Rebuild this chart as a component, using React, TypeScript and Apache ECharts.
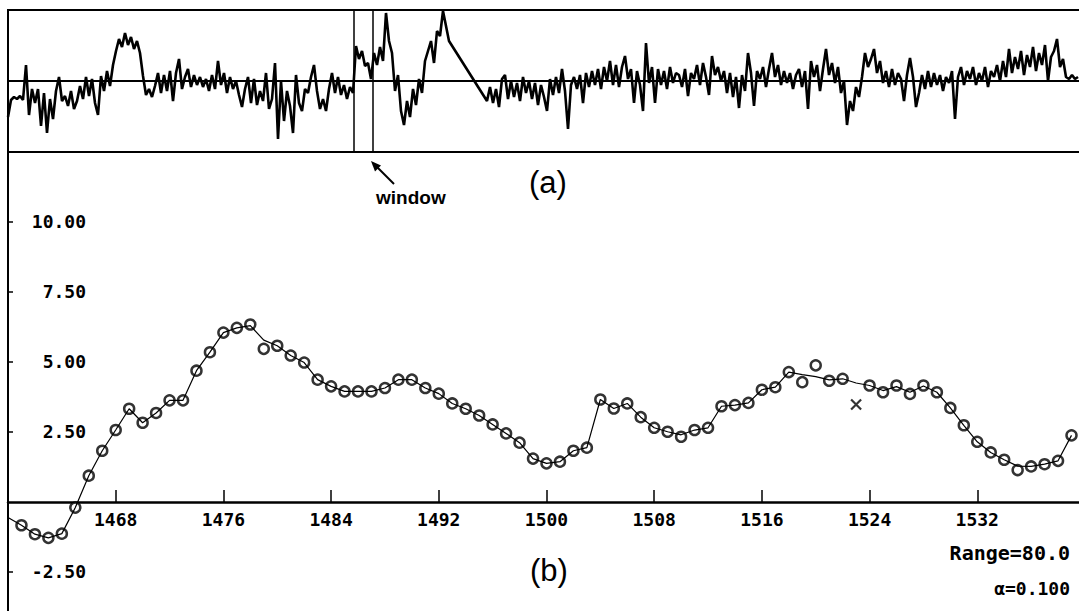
import React, { useEffect, useRef } from "react";
import * as echarts from "echarts";

// ---------- top panel (a): raw signal, in trace units (0 = baseline) ----------
const signalStep = 3;
const signalAStart = 0;
const signalA = [
  -36, -19, -16, -18, -15, -19, 16, -34, -8, -22,
  -8, -45, -12, -52, -18, -38, -10, 4, -20, -15,
  -25, -10, -28, -20, -5, -18, 4, -15, 2, -22,
  -34, 5, -10, 10, -5, 16, 30, 42, 34, 48,
  36, 44, 32, 40, 28, 5, -14, -8, -16, -5,
  8, -12, 6, -10, 10, -20, 8, 22, -8, 4,
  12, -6, 6, -4, 4, -6, 2, -10, 6, -8,
  20, -4, 8, -12, 4, -8, 0, -14, -26, -8,
  4, -22, 2, -24, -10, -20, 8, -28, -18, 18,
  -58, 0, -40, -10, -25, -52, 6, -22, -30, -8,
  -12, 4, 16, -10, -28, -18, -30, -8, 8, -12,
  4, -14, -4, -18, -6, -12, 35, 22, 30, 15,
  18, 2, 28, 16, 34, 20, 68, 40, 28, -10,
  6, -30, -44, -20, -36, -8, -24, 2, -12, 20,
  30, 40, 18, 50, 45, 70, 55, 40,
];
const signalBStart = 479;
const signalB = [
  -20, -6, -22, -8, -26, 2, 6, -18, 0, -16,
  -2, -20, 4, -12, 0, -18, -2, -24, -4, -16,
  -30, 2, -14, 4, -12, 12, -10, -48, -4, 4,
  -8, 6, -22, 8, -6, 10, -4, 12, -8, 14,
  0, 20, -4, 16, -6, 14, 25, 2, 12, -22,
  10, -4, -30, 38, -2, 14, -22, 12, -4, 10,
  -8, 14, -2, 8, 6, -6, 12, -15, 8, 2,
  16, -4, 18, 4, -14, 25, 6, 14, 0, 10,
  -12, 8, -16, 4, -27, 6, -10, 28, 8, -25,
  10, 2, 14, -6, 12, 28, 4, 16, -4, 10,
  -2, 8, -8, 6, 12, -6, 10, -28, 20, 4,
  16, -10, 12, 32, 6, 18, -2, 14, -12, 0,
  -44, -20, -30, -6, -16, 4, 28, 14, 22, 32,
  8, 20, -2, 10, -6, 12, -4, 8, 2, -20,
  6, 23, 4, -26, -12, 6, -8, 10, -6, 8,
  -4, 6, -10, 4, -2, 10, -38, 4, 14, -4,
  10, 2, 14, -4, 8, 0, 14, -6, 10, 4,
  16, 0, 20, 4, 32, 8, 24, 12, 30, 6,
  26, 14, 34, 10, 28, 16, 36, 0, 24, 30,
  42, 14, 22, 4, 2, 6, 2, 4,
];
const windowBounds = [346, 365];

// ---------- bottom panel (b) ----------
const fitStart = 1460;
const fitValues = [
  -0.55, -0.83, -1.15, -1.28, -1.13, -0.2, 0.94, 1.83, 2.57, 3.33,
  2.83, 3.18, 3.63, 3.63, 4.69, 5.35, 6.05, 6.22, 6.3, 5.78,
  5.58, 5.23, 4.98, 4.37, 4.13, 3.95, 3.95, 3.95, 4.07, 4.37,
  4.37, 4.07, 3.87, 3.52, 3.33, 3.09, 2.77, 2.45, 2.12, 1.55,
  1.38, 1.44, 1.83, 1.94, 3.66, 3.34, 3.52, 3.03, 2.65, 2.51,
  2.4, 2.57, 2.65, 3.42, 3.46, 3.54, 4.01, 4.1, 4.64, 4.55,
  4.48, 4.36, 4.4, 4.25, 4.16, 3.98, 4.12, 3.92, 4.14, 3.92,
  3.36, 2.74, 2.15, 1.77, 1.51, 1.28, 1.27, 1.35, 1.47, 2.38,
];
const pointStart = 1461;
const pointValues = [
  -0.83, -1.15, -1.28, -1.13, -0.2, 0.94, 1.83, 2.57, 3.33, 2.83,
  3.18, 3.63, 3.63, 4.69, 5.35, 6.05, 6.22, 6.34, 5.47, 5.58,
  5.23, 4.98, 4.37, 4.13, 3.95, 3.95, 3.95, 4.07, 4.37, 4.37,
  4.07, 3.87, 3.52, 3.33, 3.09, 2.77, 2.45, 2.12, 1.55, 1.38,
  1.44, 1.83, 1.94, 3.66, 3.34, 3.52, 3.03, 2.65, 2.51, 2.33,
  2.57, 2.65, 3.42, 3.46, 3.54, 4.01, 4.1, 4.64, 4.28, 4.88,
  4.33, 4.4, null, 4.16, 3.92, 4.16, 3.86, 4.16, 3.92, 3.36,
  2.74, 2.15, 1.77, 1.51, 1.14, 1.27, 1.35, 1.47, 2.38,
];
const rejectedX = [1523];
const rejectedY = [3.48];
const xTicks = [1468, 1476, 1484, 1492, 1500, 1508, 1516, 1524, 1532];
const yTicks = [-2.5, 2.5, 5, 7.5, 10];
const rangeText = "Range=80.0";
const alphaText = "\u03b1=0.100";

const MONO = "'DejaVu Sans Mono', monospace";
const SANS = "'Liberation Sans', Arial, sans-serif";

// bottom panel geometry
const B_TOP = 152;
const B_HEIGHT = 459;
const Y_MIN = -3.893;
const Y_MAX = 12.5;

export default function App() {
  const ref = useRef<HTMLDivElement>(null);
  useEffect(() => {
    if (!ref.current) return;
    const chart = echarts.init(ref.current, undefined, { renderer: "svg" });

    const sigData: number[][] = [];
    signalA.forEach((v, i) => sigData.push([signalAStart + i * signalStep, v]));
    signalB.forEach((v, i) => sigData.push([signalBStart + i * signalStep, v]));
    const fitData = fitValues.map((v, i) => [fitStart + i, v]);
    const ptData = pointValues
      .map((v, i) => [pointStart + i, v])
      .filter((d) => d[1] !== null);
    const rejData = rejectedX.map((x, i) => [x, rejectedY[i]]);

    // distance from the grid's bottom edge up to the value 0
    const zeroOffset = (0 - Y_MIN) / (Y_MAX - Y_MIN) * B_HEIGHT;

    const labelStyle = {
      color: "#000",
      fontFamily: MONO,
      fontWeight: "bold" as const,
      fontSize: 18,
    };

    chart.setOption({
      animation: false,
      backgroundColor: "#fff",
      grid: [
        {
          left: 8,
          top: 10,
          right: -3,
          height: 142,
          show: true,
          borderColor: "#000",
          borderWidth: 2,
          outerBoundsMode: "none",
          containLabel: false,
        },
        {
          left: 8,
          top: B_TOP,
          right: -3,
          height: B_HEIGHT,
          outerBoundsMode: "none",
          containLabel: false,
        },
      ],
      xAxis: [
        {
          gridIndex: 0,
          type: "value",
          min: 0,
          max: 1074,
          axisLine: { show: true, onZero: true, lineStyle: { color: "#000", width: 2 } },
          axisTick: { show: false },
          axisLabel: { show: false },
          splitLine: { show: false },
        },
        {
          gridIndex: 1,
          type: "value",
          min: 1460,
          max: 1539.78,
          position: "bottom",
          offset: -zeroOffset,
          axisLine: { show: true, onZero: false, lineStyle: { color: "#000", width: 2.5 } },
          axisTick: {
            show: true,
            inside: true,
            length: 12,
            customValues: xTicks,
            lineStyle: { color: "#000", width: 1.5 },
          },
          axisLabel: {
            show: true,
            customValues: xTicks,
            margin: 9,
            formatter: (v: number) => String(v),
            ...labelStyle,
          },
          splitLine: { show: false },
        },
      ],
      yAxis: [
        {
          gridIndex: 0,
          type: "value",
          min: -71,
          max: 71,
          axisLine: { show: false },
          axisTick: { show: false },
          axisLabel: { show: false },
          splitLine: { show: false },
        },
        {
          gridIndex: 1,
          type: "value",
          min: Y_MIN,
          max: Y_MAX,
          axisLine: { show: true, onZero: false, lineStyle: { color: "#000", width: 2 } },
          axisTick: {
            show: true,
            inside: true,
            length: 5,
            customValues: yTicks,
            lineStyle: { color: "#000", width: 1.5 },
          },
          axisLabel: {
            show: true,
            inside: true,
            margin: 78,
            align: "right",
            customValues: yTicks,
            formatter: (v: number) => v.toFixed(2),
            ...labelStyle,
          },
          splitLine: { show: false },
        },
      ],
      series: [
        {
          type: "line",
          xAxisIndex: 0,
          yAxisIndex: 0,
          data: sigData,
          showSymbol: false,
          lineStyle: { color: "#000", width: 2.6 },
          markLine: {
            silent: true,
            symbol: "none",
            label: { show: false },
            lineStyle: { color: "#000", width: 1.5, type: "solid" },
            data: windowBounds.map((x) => ({ xAxis: x })),
          },
        },
        {
          type: "line",
          xAxisIndex: 1,
          yAxisIndex: 1,
          data: fitData,
          showSymbol: false,
          lineStyle: { color: "#000", width: 1.2 },
        },
        {
          type: "scatter",
          xAxisIndex: 1,
          yAxisIndex: 1,
          data: ptData,
          symbol: "circle",
          symbolSize: 10,
          itemStyle: { color: "#fff", borderColor: "#000", borderWidth: 2.5 },
        },
        {
          type: "scatter",
          xAxisIndex: 1,
          yAxisIndex: 1,
          data: rejData,
          symbol: "path://M0 0L10 10M10 0L0 10",
          symbolSize: 10,
          itemStyle: { color: "none", borderColor: "#000", borderWidth: 2.2 },
        },
      ],
      graphic: [
        {
          type: "text",
          left: 529,
          top: 167,
          style: { text: "(a)", font: `31px ${SANS}`, fill: "#000" },
        },
        {
          type: "text",
          left: 530,
          top: 555,
          style: { text: "(b)", font: `31px ${SANS}`, fill: "#000" },
        },
        {
          type: "text",
          left: 376,
          top: 188,
          style: { text: "window", font: `bold 19px ${SANS}`, fill: "#000" },
        },
        {
          type: "line",
          shape: { x1: 394, y1: 184, x2: 376, y2: 166 },
          style: { stroke: "#000", lineWidth: 2 },
        },
        {
          type: "polygon",
          shape: { points: [[371, 161], [381, 165.5], [375, 171.5]] },
          style: { fill: "#000" },
        },
        {
          type: "text",
          right: 9,
          top: 543,
          style: { text: rangeText, font: `bold 20px ${MONO}`, fill: "#000" },
        },
        {
          type: "text",
          right: 9,
          top: 579,
          style: { text: alphaText, font: `bold 18px ${MONO}`, fill: "#000" },
        },
      ],
    });
    return () => chart.dispose();
  }, []);
  return (
    <div
      ref={ref}
      style={{ position: "absolute", left: 0, top: 0, width: 1079, height: 611 }}
    />
  );
}
